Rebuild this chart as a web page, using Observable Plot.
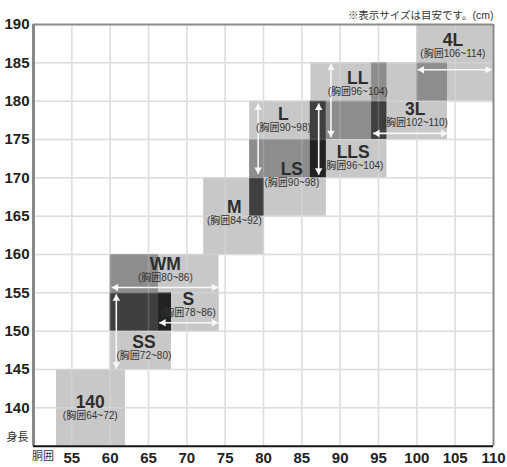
<!DOCTYPE html>
<html><head><meta charset="utf-8">
<script src="https://cdn.jsdelivr.net/npm/d3@7"></script>
<script src="https://cdn.jsdelivr.net/npm/@observablehq/plot@0.6"></script>
<style>
body{margin:0;background:#fff;}
</style></head><body><div id="chart"></div>
<script>
// Size boxes: waist (胴囲) range × height (身長) range, in cm
const sizeNames = ["140","SS","WM","S","M","LS","L","LLS","LL","3L","4L"];
const chestLabels = ["(胸囲64~72)","(胸囲72~80)","(胸囲80~86)","(胸囲78~86)","(胸囲84~92)","(胸囲90~98)","(胸囲90~98)","(胸囲96~104)","(胸囲96~104)","(胸囲102~110)","(胸囲106~114)"];
const waistMin  = [53, 60, 60,   66.3, 72.2, 78.2, 78.2, 86.1, 86.2, 94.1, 100];
const waistMax  = [62, 68, 74.2, 74.2, 80.1, 88.2, 88.2, 96.1, 104,  104,  110];
const heightMin = [135,145,150, 150, 160, 165, 170, 170, 175, 175, 180];
const heightMax = [145,155,160, 155, 170, 175, 180, 175, 185, 180, 190];
// label anchor points (waist, height)
const labelWaist  = [57.4, 64.4, 67.2, 70.2, 76.2, 83.7, 82.6, 91.7, 92.3, 99.8, 104.7];
const labelHeight = [140.7,148.5,158.7,154.1,166.1,171.1,178.3,173.3,183.0,178.9,187.9];

// Overlap shading patches
const shadeWaistMin  = [60, 60,   66.3, 78.2, 78.2, 86.1, 86.1, 88.2, 94.1, 94.1, 100];
const shadeWaistMax  = [66.3,66.3,68,   80.1, 86.1, 88.2, 88.2, 94.1, 96.1, 96.1, 104];
const shadeHeightMin = [155, 150, 150,  165,  170,  170,  175,  175,  175,  180,  180];
const shadeHeightMax = [160, 155, 155,  170,  175,  175,  180,  180,  180,  185,  185];
const shadeLevel     = ["medium","dark","darkest","dark","medium","darkest","dark","medium","dark","medium","medium"];

// Range arrows
const arrowSize = ["WM","S","SS","L","LLS","LL","3L","4L"];
const arrowX1 = [60.2, 66.4, 60.8, 79.3, 87.2, 88.8, 94.3, 100.1];
const arrowX2 = [74.1, 74.1, 60.8, 79.3, 87.2, 88.8, 104,  109.8];
const arrowY1 = [155.7,151.1,145.1,170.5,170.4,175.3,175.8,184.1];
const arrowY2 = [155.7,151.1,154.8,179.7,179.7,184.9,175.8,184.1];

const xTicks = [55,60,65,70,75,80,85,90,95,100,105,110];
const yTicks = [140,145,150,155,160,165,170,175,180,185,190];
const note = "※表示サイズは目安です。(cm)";

const boxes = sizeNames.map((n,i)=>({name:n, chest:chestLabels[i], x1:waistMin[i], x2:waistMax[i], y1:heightMin[i], y2:heightMax[i], lx:labelWaist[i], ly:labelHeight[i]}));
const shades = shadeLevel.map((l,i)=>({level:l, x1:shadeWaistMin[i], x2:shadeWaistMax[i], y1:shadeHeightMin[i], y2:shadeHeightMax[i]}));
const arrows = arrowSize.map((n,i)=>({name:n, x1:arrowX1[i], x2:arrowX2[i], y1:arrowY1[i], y2:arrowY2[i]}));
const hArrows = arrows.filter(d=>d.y1===d.y2);
const vArrows = arrows.filter(d=>d.x1===d.x2);

const FONT = "'Liberation Sans', 'Noto Sans CJK JP', sans-serif";
const shadeColor = {medium:"#8d8d8d", dark:"#3f3f3f", darkest:"#222222"};
const off = 4.3, r = 2.8, arrowColor = "#f7f7f7";

const chart = Plot.plot({
  width: 507, height: 467,
  marginLeft: 33, marginRight: 14, marginTop: 24, marginBottom: 21.3,
  x: {domain:[50,110], label:null},
  y: {domain:[135,190], label:null},
  style: {fontFamily: FONT, background:"#fff", color:"#222"},
  marks: [
    Plot.gridX(xTicks.slice(0,-1), {stroke:"#d6d6d6", strokeOpacity:1, strokeWidth:1.5}),
    Plot.gridY(yTicks.slice(0,-1), {stroke:"#d6d6d6", strokeOpacity:1, strokeWidth:1.5}),
    Plot.rect(boxes, {x1:"x1", x2:"x2", y1:"y1", y2:"y2", fill:"#c8c8c8"}),
    Plot.rect(shades, {x1:"x1", x2:"x2", y1:"y1", y2:"y2", fill:d=>shadeColor[d.level]}),
    Plot.gridX(xTicks.slice(0,-1), {stroke:"#fff", strokeOpacity:0.18, strokeWidth:1.5}),
    Plot.gridY(yTicks.slice(0,-1), {stroke:"#fff", strokeOpacity:0.18, strokeWidth:1.5}),
    Plot.link(arrows, {x1:"x1", x2:"x2", y1:"y1", y2:"y2", stroke:arrowColor, strokeWidth:1.6}),
    Plot.dot(hArrows, {x:"x1", y:"y1", symbol:"triangle", r, rotate:270, dx:off, fill:arrowColor, stroke:null}),
    Plot.dot(hArrows, {x:"x2", y:"y2", symbol:"triangle", r, rotate:90, dx:-off, fill:arrowColor, stroke:null}),
    Plot.dot(vArrows, {x:"x1", y:"y1", symbol:"triangle", r, rotate:180, dy:-off, fill:arrowColor, stroke:null}),
    Plot.dot(vArrows, {x:"x2", y:"y2", symbol:"triangle", r, rotate:0, dy:off, fill:arrowColor, stroke:null}),
    Plot.text(boxes, {x:"lx", y:"ly", text:"name", fontSize:17.5, fontWeight:"bold", fill:"#2e2e2e"}),
    Plot.text(boxes, {x:"lx", y:"ly", text:"chest", dy:13.5, fontSize:10, fill:"#333"}),
    Plot.ruleY([190], {stroke:"#8a8a8a", strokeWidth:2}),
    Plot.ruleX([110], {stroke:"#8a8a8a", strokeWidth:2}),
    Plot.ruleX([50], {stroke:"#888", strokeWidth:3}),
    Plot.ruleY([135], {stroke:"#151515", strokeWidth:2}),
    Plot.axisY({ticks:yTicks, tickSize:0, tickPadding:4, fontSize:15, fontWeight:"bold", label:null}),
    Plot.axisX({ticks:xTicks, tickSize:0, tickPadding:6, fontSize:15, fontWeight:"bold", label:null}),
    Plot.text([note], {frameAnchor:"top-right", dy:-13, text:d=>d, textAnchor:"end", fontSize:10.5, fill:"#333"}),
    Plot.text(["身長"], {frameAnchor:"bottom-left", dx:-16, dy:-5, text:d=>d, textAnchor:"middle", fontSize:11, fill:"#333"}),
    Plot.text(["胴囲"], {frameAnchor:"bottom-left", dx:9.5, dy:14, text:d=>d, textAnchor:"middle", fontSize:11, fill:"#333"})
  ]
});
document.getElementById("chart").appendChild(chart);
</script></body></html>
